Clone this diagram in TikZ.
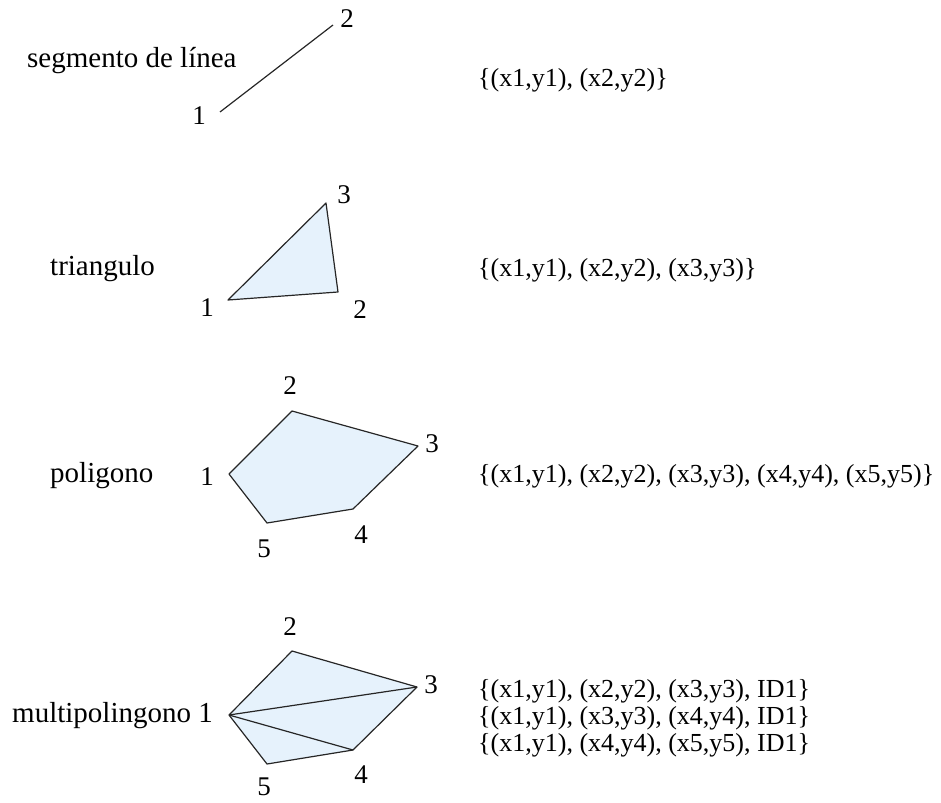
\documentclass[tikz,border=0pt]{standalone}
\usepackage{fontspec}
\setmainfont{Liberation Serif}
\definecolor{shapefill}{HTML}{E6F2FC}
\tikzset{
  shp/.style={draw=black!85, line width=1.2pt, fill=shapefill, line join=round},
  seg/.style={draw=black!85, line width=1.2pt},
  lbl/.style={inner sep=0pt, font=\fontsize{27}{32}\selectfont},
  txt/.style={inner sep=0pt, anchor=base west, font=\fontsize{29}{34}\selectfont},
  crd/.style={inner sep=0pt, anchor=base west, font=\fontsize{26}{31}\selectfont},
}
\begin{document}
\begin{tikzpicture}[x=1pt,y=-1pt]
\useasboundingbox (0,0) rectangle (941,802);
% segment
\coordinate (s1) at (220,112);
\coordinate (s2) at (333,25);
\draw[seg] (s1) -- (s2);
\node[lbl] (ls1) at (199,116) {1};
\node[lbl] (ls2) at (347,19) {2};
\node[txt] (tseg) at (27,68) {segmento de línea};
\node[crd] (cseg) at (478,87) {\{(x1,y1), (x2,y2)\}};
% triangle
\coordinate (t1) at (228,300);
\coordinate (t2) at (338,292);
\coordinate (t3) at (326,203);
\draw[shp] (t1) -- (t2) -- (t3) -- cycle;
\node[lbl] (lt1) at (207,308) {1};
\node[lbl] (lt2) at (360,310) {2};
\node[lbl] (lt3) at (344,195) {3};
\node[txt] (ttri) at (50,275) {triangulo};
\node[crd] (ctri) at (478,276) {\{(x1,y1), (x2,y2), (x3,y3)\}};
% polygon
\coordinate (p1) at (229,474);
\coordinate (p2) at (292,411);
\coordinate (p3) at (418,446);
\coordinate (p4) at (353,509);
\coordinate (p5) at (267,523);
\draw[shp] (p1) -- (p2) -- (p3) -- (p4) -- (p5) -- cycle;
\node[lbl] (lp1) at (207,477) {1};
\node[lbl] (lp2) at (290,386) {2};
\node[lbl] (lp3) at (432,444) {3};
\node[lbl] (lp4) at (361,535) {4};
\node[lbl] (lp5) at (264,549) {5};
\node[txt] (tpol) at (50,482) {poligono};
\node[crd] (cpol) at (478,482) {\{(x1,y1), (x2,y2), (x3,y3), (x4,y4), (x5,y5)\}};
% multipolygon
\coordinate (m1) at (229,715);
\coordinate (m2) at (292,651);
\coordinate (m3) at (417,687);
\coordinate (m4) at (353,750);
\coordinate (m5) at (267,764);
\draw[shp] (m1) -- (m2) -- (m3) -- (m4) -- (m5) -- cycle;
\draw[seg] (m1) -- (m3);
\draw[seg] (m1) -- (m4);
\node[lbl] (lm2) at (290,627) {2};
\node[lbl] (lm3) at (431,685) {3};
\node[lbl] (lm4) at (361,775) {4};
\node[lbl] (lm5) at (264,787) {5};
\node[txt] (tmul) at (12,722) {multipolingono 1};
\node[crd] (cm1) at (478,697) {\{(x1,y1), (x2,y2), (x3,y3), ID1\}};
\node[crd] (cm2) at (478,724) {\{(x1,y1), (x3,y3), (x4,y4), ID1\}};
\node[crd] (cm3) at (478,751) {\{(x1,y1), (x4,y4), (x5,y5), ID1\}};
\end{tikzpicture}
\end{document}
